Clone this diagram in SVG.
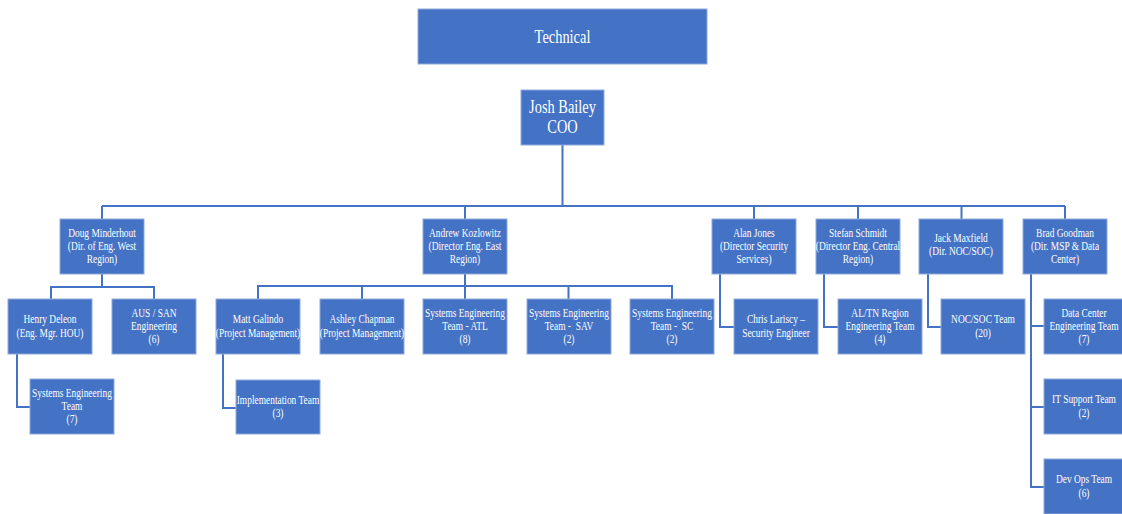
<svg xmlns="http://www.w3.org/2000/svg" width="1122" height="514" viewBox="0 0 1122 514">
<style>
.box{fill:#4472C4;stroke:#8FAADC;stroke-width:1}
.t{font-family:'Liberation Serif','Times New Roman','DejaVu Serif',serif;font-size:11.5px;fill:#ffffff;text-anchor:middle}
.big{font-size:19.5px}
.conn{fill:none;stroke:#4472C4;stroke-width:2}
</style>
<rect width="1122" height="514" fill="#ffffff"/>
<g id="connectors" class="conn">
<path d="M562.5 145V206"/>
<path d="M102 206H1065"/>
<path d="M102 206V219M465 206V219M754 206V219M858 206V219M961.5 206V219M1065 206V219"/>
<path d="M102 274V287M51 299V287H154V299"/>
<path d="M17 354V407H30"/>
<path d="M465 274V299M258 299V286H672V299M362 286V299M568.5 286V299"/>
<path d="M223 354V408H236"/>
<path d="M720 274V327H734"/>
<path d="M824 274V327H838"/>
<path d="M928 274V327H941"/>
<path d="M1031 274V487H1044M1031 326H1044M1031 407H1044"/>
</g>
<g id="technical"><rect class="box" x="418" y="9" width="289" height="55"/>
<text class="t big" font-family="Liberation Serif, serif" transform="translate(562.5,0) scale(0.74,1)"><tspan x="0" y="43">Technical</tspan></text></g>
<g id="coo"><rect class="box" x="521" y="90" width="83" height="55"/>
<text class="t big" font-family="Liberation Serif, serif" transform="translate(562.5,0) scale(0.74,1)"><tspan x="0" y="113">Josh Bailey</tspan><tspan x="0" y="133">COO</tspan></text></g>
<g id="doug"><rect class="box" x="60" y="219" width="84" height="55"/>
<text class="t" transform="translate(102,0) scale(0.82,1)"><tspan x="0" y="237.3">Doug Minderhout</tspan><tspan x="0" y="250">(Dir. of Eng. West</tspan><tspan x="0" y="262.7">Region)</tspan></text></g>
<g id="andrew"><rect class="box" x="423" y="219" width="84" height="55"/>
<text class="t" transform="translate(465,0) scale(0.82,1)"><tspan x="0" y="237.3">Andrew Kozlowitz</tspan><tspan x="0" y="250">(Director Eng. East</tspan><tspan x="0" y="262.7">Region)</tspan></text></g>
<g id="alan"><rect class="box" x="712" y="219" width="84" height="55"/>
<text class="t" transform="translate(754,0) scale(0.82,1)"><tspan x="0" y="237.3">Alan Jones</tspan><tspan x="0" y="250">(Director Security</tspan><tspan x="0" y="262.7">Services)</tspan></text></g>
<g id="stefan"><rect class="box" x="816" y="219" width="84" height="55"/>
<text class="t" transform="translate(858,0) scale(0.82,1)"><tspan x="0" y="237.3">Stefan Schmidt</tspan><tspan x="0" y="250">(Director Eng. Central</tspan><tspan x="0" y="262.7">Region)</tspan></text></g>
<g id="jack"><rect class="box" x="919" y="219" width="84" height="55"/>
<text class="t" transform="translate(961,0) scale(0.82,1)"><tspan x="0" y="242.3">Jack Maxfield</tspan><tspan x="0" y="255">(Dir. NOC/SOC)</tspan></text></g>
<g id="brad"><rect class="box" x="1023" y="219" width="84" height="55"/>
<text class="t" transform="translate(1065,0) scale(0.82,1)"><tspan x="0" y="237.3">Brad Goodman</tspan><tspan x="0" y="250">(Dir. MSP &amp; Data</tspan><tspan x="0" y="262.7">Center)</tspan></text></g>
<g id="henry"><rect class="box" x="8" y="299" width="84" height="55"/>
<text class="t" transform="translate(50,0) scale(0.82,1)"><tspan x="0" y="323.3">Henry Deleon</tspan><tspan x="0" y="336.7">(Eng. Mgr. HOU)</tspan></text></g>
<g id="aus-san"><rect class="box" x="112" y="299" width="84" height="55"/>
<text class="t" transform="translate(154,0) scale(0.82,1)"><tspan x="0" y="317.3">AUS / SAN</tspan><tspan x="0" y="330">Engineering</tspan><tspan x="0" y="342.7">(6)</tspan></text></g>
<g id="matt"><rect class="box" x="216" y="299" width="84" height="55"/>
<text class="t" transform="translate(258,0) scale(0.82,1)"><tspan x="0" y="323.3">Matt Galindo</tspan><tspan x="0" y="336.7">(Project Management)</tspan></text></g>
<g id="ashley"><rect class="box" x="320" y="299" width="84" height="55"/>
<text class="t" transform="translate(362,0) scale(0.82,1)"><tspan x="0" y="323.3">Ashley Chapman</tspan><tspan x="0" y="336.7">(Project Management)</tspan></text></g>
<g id="se-atl"><rect class="box" x="423" y="299" width="84" height="55"/>
<text class="t" transform="translate(465,0) scale(0.82,1)"><tspan x="0" y="317.3">Systems Engineering</tspan><tspan x="0" y="330">Team - ATL</tspan><tspan x="0" y="342.7">(8)</tspan></text></g>
<g id="se-sav"><rect class="box" x="527" y="299" width="84" height="55"/>
<text class="t" transform="translate(569,0) scale(0.82,1)" xml:space="preserve"><tspan x="0" y="317.3">Systems Engineering</tspan><tspan x="0" y="330">Team -  SAV</tspan><tspan x="0" y="342.7">(2)</tspan></text></g>
<g id="se-sc"><rect class="box" x="630" y="299" width="84" height="55"/>
<text class="t" transform="translate(672,0) scale(0.82,1)" xml:space="preserve"><tspan x="0" y="317.3">Systems Engineering</tspan><tspan x="0" y="330">Team -  SC</tspan><tspan x="0" y="342.7">(2)</tspan></text></g>
<g id="chris"><rect class="box" x="734" y="299" width="84" height="55"/>
<text class="t" transform="translate(776,0) scale(0.82,1)"><tspan x="0" y="323.3">Chris Lariscy –</tspan><tspan x="0" y="336.7">Security Engineer</tspan></text></g>
<g id="al-tn"><rect class="box" x="838" y="299" width="84" height="55"/>
<text class="t" transform="translate(880,0) scale(0.82,1)"><tspan x="0" y="317.3">AL/TN Region</tspan><tspan x="0" y="330">Engineering Team</tspan><tspan x="0" y="342.7">(4)</tspan></text></g>
<g id="noc-soc-team"><rect class="box" x="941" y="299" width="84" height="55"/>
<text class="t" transform="translate(983,0) scale(0.82,1)"><tspan x="0" y="323.3">NOC/SOC Team</tspan><tspan x="0" y="336.7">(20)</tspan></text></g>
<g id="data-center"><rect class="box" x="1044" y="299" width="84" height="55"/>
<text class="t" transform="translate(1084,0) scale(0.82,1)"><tspan x="0" y="317.3">Data Center</tspan><tspan x="0" y="330">Engineering Team</tspan><tspan x="0" y="342.7">(7)</tspan></text></g>
<g id="se-team-west"><rect class="box" x="30" y="379" width="84" height="55"/>
<text class="t" transform="translate(72,0) scale(0.82,1)"><tspan x="0" y="397.3">Systems Engineering</tspan><tspan x="0" y="410">Team</tspan><tspan x="0" y="422.7">(7)</tspan></text></g>
<g id="implementation"><rect class="box" x="236" y="380" width="84" height="54"/>
<text class="t" transform="translate(278,0) scale(0.82,1)"><tspan x="0" y="404">Implementation Team</tspan><tspan x="0" y="417.4">(3)</tspan></text></g>
<g id="it-support"><rect class="box" x="1044" y="379" width="84" height="55"/>
<text class="t" transform="translate(1084,0) scale(0.82,1)"><tspan x="0" y="403.5">IT Support Team</tspan><tspan x="0" y="416.8">(2)</tspan></text></g>
<g id="dev-ops"><rect class="box" x="1044" y="459" width="84" height="55"/>
<text class="t" transform="translate(1084,0) scale(0.82,1)"><tspan x="0" y="483.3">Dev Ops Team</tspan><tspan x="0" y="496.7">(6)</tspan></text></g>
</svg>
